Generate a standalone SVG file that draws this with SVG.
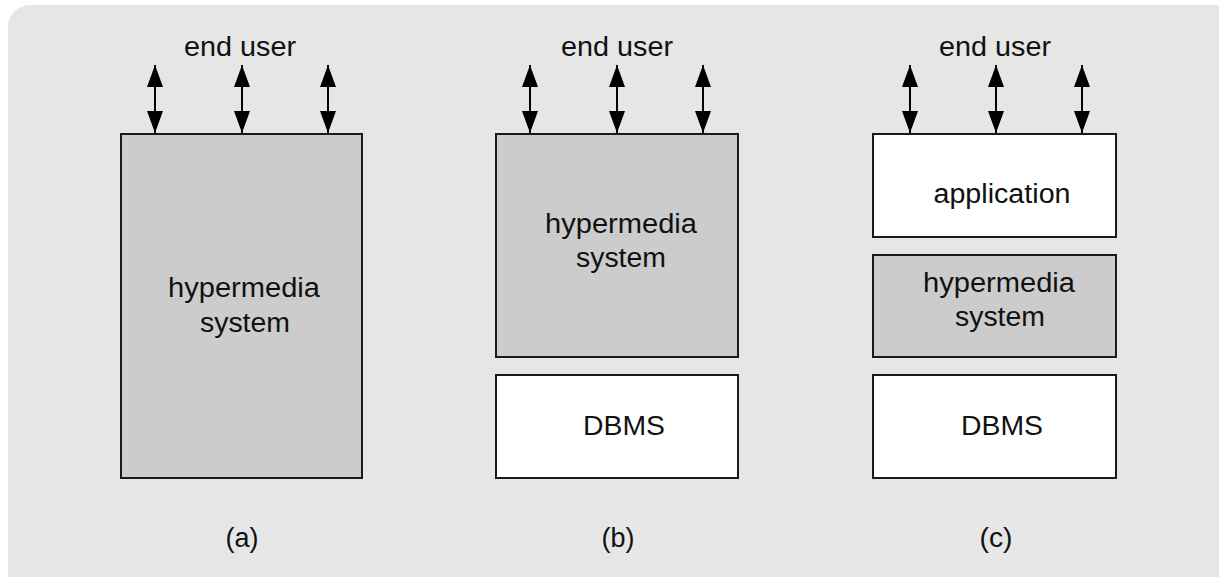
<svg xmlns="http://www.w3.org/2000/svg" width="1219" height="577" viewBox="0 0 1219 577">
  <style>
    .bg { fill: #e6e6e6; }
    .gray { fill: #cccccc; stroke: #1a1a1a; stroke-width: 2; }
    .white { fill: #ffffff; stroke: #1a1a1a; stroke-width: 2; }
    .lbl { font-family: "Liberation Sans", Arial, sans-serif; font-size: 27px; fill: #111111; text-anchor: middle; }
    .conn { stroke: #000000; stroke-width: 2; fill: none; marker-start: url(#ah); marker-end: url(#ah); }
  </style>
  <defs>
    <marker id="ah" markerUnits="userSpaceOnUse" markerWidth="23" markerHeight="16" refX="22" refY="8" orient="auto-start-reverse">
      <path d="M0,0 L22,8 L0,16 Z" fill="#000000"/>
    </marker>
  </defs>

  <rect class="bg" x="8" y="5" width="1230" height="590" rx="22" ry="22"/>

  <!-- (a) -->
  <g id="a-enduser"><text class="lbl" x="240" y="56" textLength="112" lengthAdjust="spacingAndGlyphs">end user</text></g>
  <g id="a-hypermedia">
    <rect class="gray" x="121" y="134" width="241" height="344"/>
    <text class="lbl" x="244" y="297" textLength="152" lengthAdjust="spacingAndGlyphs">hypermedia</text>
    <text class="lbl" x="245" y="332" textLength="90" lengthAdjust="spacingAndGlyphs">system</text>
  </g>
  <g id="a-caption"><text class="lbl" x="242" y="547" textLength="33" lengthAdjust="spacingAndGlyphs">(a)</text></g>

  <!-- (b) -->
  <g id="b-enduser"><text class="lbl" x="617" y="56" textLength="112" lengthAdjust="spacingAndGlyphs">end user</text></g>
  <g id="b-hypermedia">
    <rect class="gray" x="496" y="134" width="242" height="223"/>
    <text class="lbl" x="621" y="233" textLength="152" lengthAdjust="spacingAndGlyphs">hypermedia</text>
    <text class="lbl" x="621" y="267" textLength="90" lengthAdjust="spacingAndGlyphs">system</text>
  </g>
  <g id="b-dbms">
    <rect class="white" x="496" y="375" width="242" height="103"/>
    <text class="lbl" x="624" y="435" textLength="82" lengthAdjust="spacingAndGlyphs">DBMS</text>
  </g>
  <g id="b-caption"><text class="lbl" x="618" y="547" textLength="33" lengthAdjust="spacingAndGlyphs">(b)</text></g>

  <!-- (c) -->
  <g id="c-enduser"><text class="lbl" x="995" y="56" textLength="112" lengthAdjust="spacingAndGlyphs">end user</text></g>
  <g id="c-application">
    <rect class="white" x="873" y="134" width="243" height="103"/>
    <text class="lbl" x="1002" y="203" textLength="137" lengthAdjust="spacingAndGlyphs">application</text>
  </g>
  <g id="c-hypermedia">
    <rect class="gray" x="873" y="255" width="243" height="102"/>
    <text class="lbl" x="999" y="292" textLength="152" lengthAdjust="spacingAndGlyphs">hypermedia</text>
    <text class="lbl" x="1000" y="326" textLength="90" lengthAdjust="spacingAndGlyphs">system</text>
  </g>
  <g id="c-dbms">
    <rect class="white" x="873" y="375" width="243" height="103"/>
    <text class="lbl" x="1002" y="435" textLength="82" lengthAdjust="spacingAndGlyphs">DBMS</text>
  </g>
  <g id="c-caption"><text class="lbl" x="996" y="547" textLength="33" lengthAdjust="spacingAndGlyphs">(c)</text></g>

  <!-- connectors -->
  <g id="connectors">
    <line class="conn" x1="155" y1="65" x2="155" y2="133"/>
    <line class="conn" x1="242" y1="65" x2="242" y2="133"/>
    <line class="conn" x1="328" y1="65" x2="328" y2="133"/>
    <line class="conn" x1="530" y1="65" x2="530" y2="133"/>
    <line class="conn" x1="617" y1="65" x2="617" y2="133"/>
    <line class="conn" x1="703" y1="65" x2="703" y2="133"/>
    <line class="conn" x1="910" y1="65" x2="910" y2="133"/>
    <line class="conn" x1="996" y1="65" x2="996" y2="133"/>
    <line class="conn" x1="1082" y1="65" x2="1082" y2="133"/>
  </g>
</svg>
